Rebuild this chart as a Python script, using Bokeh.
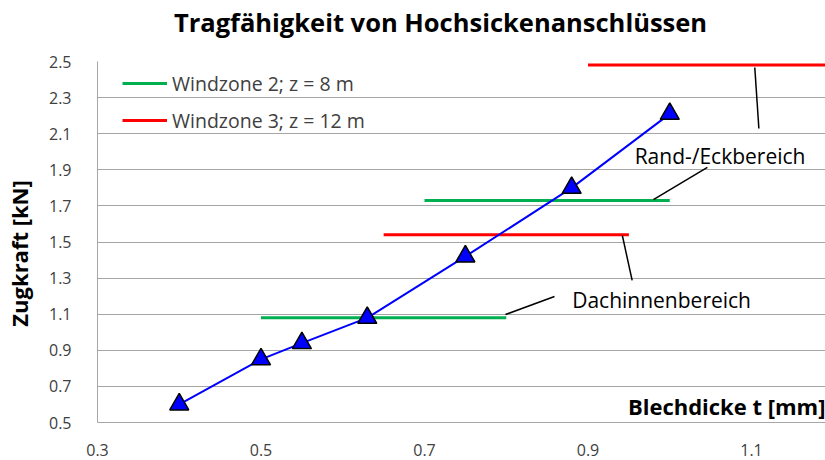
from bokeh.plotting import figure
from bokeh.models import (Range1d, FixedTicker, Legend, LegendItem, Label, Div)
from bokeh.layouts import column
from bokeh.embed import file_html
from bokeh.resources import INLINE

# data
t_mm = [0.40, 0.50, 0.55, 0.63, 0.75, 0.88, 1.00]
zug_kN = [0.60, 0.85, 0.94, 1.08, 1.42, 1.80, 2.21]

# Windzone 2 (green) segments: x start, x end, level
wz2_x0 = [0.50, 0.70]
wz2_x1 = [0.80, 1.00]
wz2_y = [1.08, 1.73]
# Windzone 3 (red)
wz3_x0 = [0.65, 0.90]
wz3_x1 = [0.95, 1.30]
wz3_y = [1.54, 2.48]

x_ticks = [0.3, 0.5, 0.7, 0.9, 1.1]
y_ticks = [0.5, 0.7, 0.9, 1.1, 1.3, 1.5, 1.7, 1.9, 2.1, 2.3, 2.5]

# annotation texts & leader lines
ann_text = ["Rand-/Eckbereich", "Dachinnenbereich"]
ann_x = [1.0615, 0.99]
ann_y = [1.979, 1.176]
lead_x0 = [0.980, 1.104, 0.799, 0.942]
lead_y0 = [1.735, 2.467, 1.098, 1.536]
lead_x1 = [1.046, 1.109, 0.859, 0.954]
lead_y1 = [1.913, 2.129, 1.198, 1.287]

TITLE = "Tragfähigkeit von Hochsickenanschlüssen"
FONT = "Open Sans"
GRID = "#A6A6A6"
TICKC = "#404040"

title_div = Div(
    text=('<div style="font-family:\'Open Sans\';font-size:25.5px;font-weight:bold;'
          'color:black;text-align:center;width:825px;position:relative;left:28px;'
          'line-height:44px;height:44px;white-space:nowrap;">' + TITLE + '</div>'),
    width=825, height=44, margin=0)

p = figure(width=825, height=416, output_backend="svg", toolbar_location=None,
           x_range=Range1d(0.3, 1.1905), y_range=Range1d(0.5, 2.5),
           min_border_left=97, min_border_right=0, min_border_bottom=38,
           min_border_top=17, margin=0)
p.outline_line_color = None
p.background_fill_color = "white"

p.xgrid.grid_line_color = None
p.ygrid.grid_line_color = GRID
p.ygrid.grid_line_width = 1
p.ygrid.ticker = FixedTicker(ticks=y_ticks)

for ax in (p.xaxis[0], p.yaxis[0]):
    ax.axis_line_color = GRID
    ax.major_tick_line_color = None
    ax.minor_tick_line_color = None
    ax.major_label_text_font = FONT
    ax.major_label_text_font_size = "16px"
    ax.major_label_text_color = TICKC
p.xaxis.ticker = FixedTicker(ticks=x_ticks)
p.yaxis.ticker = FixedTicker(ticks=y_ticks)
p.xaxis.major_label_standoff = 15
p.yaxis.major_label_standoff = 20
p.yaxis.axis_label = "Zugkraft [kN]" + "\u00a0" * 4
p.yaxis.axis_label_text_font = FONT
p.yaxis.axis_label_text_font_size = "22px"
p.yaxis.axis_label_text_font_style = "bold"
p.yaxis.axis_label_text_color = "black"
p.yaxis.axis_label_standoff = 12

g = p.segment(wz2_x0, wz2_y, wz2_x1, wz2_y, line_color="#00B050", line_width=3)
r = p.segment(wz3_x0, wz3_y, wz3_x1, wz3_y, line_color="#FF0000", line_width=3)

p.segment(lead_x0, lead_y0, lead_x1, lead_y1, line_color="black", line_width=1.5)

p.line(t_mm, zug_kN, line_color="#0000FF", line_width=2)
p.scatter(t_mm, zug_kN, marker="triangle", size=19, fill_color="#0000FF",
          line_color="black", line_width=1.5)

p.text(ann_x, ann_y, text=ann_text, text_font={"value": FONT}, text_font_size="21px",
       text_align="center", text_baseline="middle", text_color="black")

p.add_layout(Label(x=1.1905, y=0.594, text="Blechdicke t [mm]", text_align="right",
                   text_baseline="middle", text_font=FONT, text_font_size="22px",
                   text_font_style="bold", text_color="black"))

legend = Legend(items=[LegendItem(label="Windzone 2; z = 8 m", renderers=[g]),
                       LegendItem(label="Windzone 3; z = 12 m", renderers=[r])],
                location=(18, 280), padding=7, spacing=7, margin=0,
                glyph_width=45, glyph_height=30, label_height=30,
                label_standoff=5, border_line_alpha=0, background_fill_alpha=0,
                label_text_font=FONT, label_text_font_size="19.5px",
                label_text_color=TICKC)
p.add_layout(legend)

layout = column(title_div, p, spacing=0)
open("out.html", "w").write(file_html(layout, INLINE))
